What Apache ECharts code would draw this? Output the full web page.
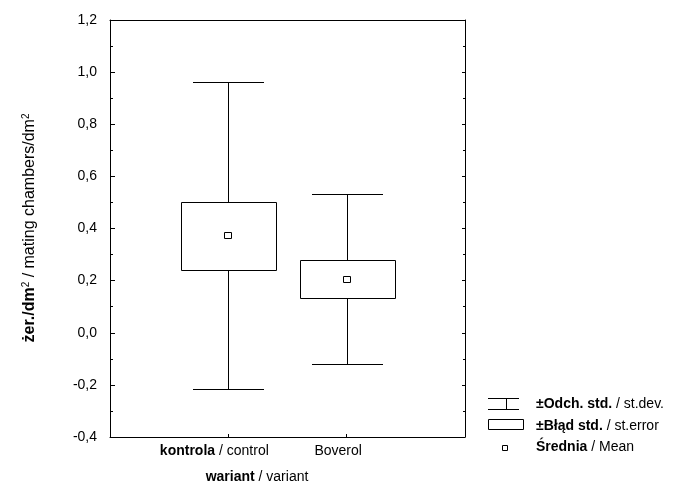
<!DOCTYPE html>
<html>
<head>
<meta charset="utf-8">
<script src="https://cdn.jsdelivr.net/npm/echarts@6/dist/echarts.min.js"></script>
<style>
html,body{margin:0;padding:0;background:#fff;}
#chart{width:681px;height:483px;}
</style>
</head>
<body>
<div id="chart"></div>
<script>
// ---- data ----
const categoryMain = ['kontrola', 'Boverol'];
const categoryTranslation = ['control', null];
const means = [0.374, 0.207];
const seLow = [0.241, 0.135];
const seHigh = [0.503, 0.279];
const sdLow = [-0.217, -0.119];
const sdHigh = [0.961, 0.532];
const yTicks = [-0.4, -0.2, 0.0, 0.2, 0.4, 0.6, 0.8, 1.0, 1.2];

const FONT = "'Liberation Sans', Arial, sans-serif";
const labelPad = [28, 17];

const seriesData = means.map((m, i) => [i + 1, sdLow[i], seLow[i], m, seHigh[i], sdHigh[i]]);

function crisp(v) { return Math.round(v) + 0.5; }

function renderItem(params, api) {
  const x = api.value(0);
  const pSdLow = api.coord([x, api.value(1)]);
  const pSeLow = api.coord([x, api.value(2)]);
  const pMean = api.coord([x, api.value(3)]);
  const pSeHigh = api.coord([x, api.value(4)]);
  const pSdHigh = api.coord([x, api.value(5)]);
  const unit = api.size([1, 0])[0];
  const cx = crisp(pMean[0]);
  const boxHalf = unit * 0.4;
  const capHalf = unit * 0.3;
  const st = { stroke: '#000', lineWidth: 1, fill: null };
  const yTop = crisp(pSdHigh[1]), yBot = crisp(pSdLow[1]);
  const yBoxT = crisp(pSeHigh[1]), yBoxB = crisp(pSeLow[1]);
  const ym = Math.round(pMean[1]);
  return {
    type: 'group',
    children: [
      { type: 'line', shape: { x1: cx, y1: yTop, x2: cx, y2: yBoxT }, style: st },
      { type: 'line', shape: { x1: cx, y1: yBoxB, x2: cx, y2: yBot }, style: st },
      { type: 'line', shape: { x1: Math.round(cx - capHalf), y1: yTop, x2: Math.round(cx + capHalf), y2: yTop }, style: st },
      { type: 'line', shape: { x1: Math.round(cx - capHalf), y1: yBot, x2: Math.round(cx + capHalf), y2: yBot }, style: st },
      { type: 'rect', shape: { x: crisp(cx - boxHalf), y: yBoxT, width: Math.round(boxHalf * 2), height: yBoxB - yBoxT },
        style: { stroke: '#000', lineWidth: 1, fill: '#fff' } },
      { type: 'rect', shape: { x: cx - 4, y: ym - 3 + 0.5, width: 7, height: 6 },
        style: { stroke: '#000', lineWidth: 1, fill: '#fff' } }
    ]
  };
}

const axisLineStyle = { color: '#000', width: 1 };

const option = {
  animation: false,
  backgroundColor: '#fff',
  grid: { left: 110, right: 216, top: 20, bottom: 46 },
  xAxis: [
    {
      type: 'value', min: 0, max: 3, interval: 1, position: 'bottom',
      axisLine: { show: true, onZero: false, lineStyle: axisLineStyle },
      axisTick: { show: true, inside: true, length: 3, lineStyle: axisLineStyle },
      splitLine: { show: false },
      axisLabel: {
        margin: 7, color: '#000', fontFamily: FONT, fontSize: 14,
        formatter: function (v) {
          const i = Math.round(v) - 1;
          if (i < 0 || i >= categoryMain.length) return '';
          if (categoryTranslation[i]) {
            return '{b|' + categoryMain[i] + '}{p' + i + '| / ' + categoryTranslation[i] + '}';
          }
          return '{p' + i + '|' + categoryMain[i] + '}';
        },
        rich: {
          b: { fontWeight: 'bold', fontFamily: FONT, fontSize: 14, color: '#000' },
          p0: { fontFamily: FONT, fontSize: 14, color: '#000', padding: [0, labelPad[0], 0, 0] },
          p1: { fontFamily: FONT, fontSize: 14, color: '#000', padding: [0, labelPad[1], 0, 0] }
        }
      }
    },
    {
      type: 'value', min: 0, max: 3, position: 'top',
      axisLine: { show: true, onZero: false, lineStyle: axisLineStyle },
      axisTick: { show: false }, axisLabel: { show: false }, splitLine: { show: false }
    }
  ],
  yAxis: [
    {
      type: 'value', min: yTicks[0], max: yTicks[yTicks.length - 1], interval: 0.2, position: 'left',
      axisLine: { show: true, onZero: false, lineStyle: axisLineStyle },
      axisTick: { show: true, inside: true, length: 5, lineStyle: axisLineStyle },
      minorTick: { show: true, splitNumber: 2, length: 3, lineStyle: axisLineStyle },
      splitLine: { show: false },
      axisLabel: {
        margin: 13, color: '#000', fontFamily: FONT, fontSize: 14,
        formatter: v => v.toFixed(1).replace('.', ',')
      }
    },
    {
      type: 'value', min: yTicks[0], max: yTicks[yTicks.length - 1], interval: 0.2, position: 'right',
      axisLine: { show: true, onZero: false, lineStyle: axisLineStyle },
      axisTick: { show: true, inside: true, length: 3, lineStyle: axisLineStyle },
      minorTick: { show: true, splitNumber: 2, length: 2, lineStyle: axisLineStyle },
      splitLine: { show: false }, axisLabel: { show: false }
    }
  ],
  series: [{
    type: 'custom',
    xAxisIndex: 0, yAxisIndex: 0,
    renderItem: renderItem,
    encode: { x: 0, y: [1, 2, 3, 4, 5] },
    data: seriesData,
    silent: true
  }],
  graphic: [
    // y-axis title
    {
      type: 'text', x: 30, y: 228, rotation: Math.PI / 2,
      style: {
        text: '{b|żer./dm}{s|2}{r| / mating chambers/dm}{s|2}',
        align: 'center', verticalAlign: 'middle',
        rich: {
          b: { fontWeight: 'bold', fontFamily: FONT, fontSize: 16, fill: '#000', lineHeight: 18 },
          r: { fontFamily: FONT, fontSize: 16, fill: '#000', lineHeight: 18 },
          s: { fontFamily: FONT, fontSize: 10, fill: '#000', lineHeight: 18, verticalAlign: 'top' }
        }
      }
    },
    // x-axis title
    {
      type: 'text', x: 257, y: 477,
      style: {
        text: '{b|wariant}{r| / variant}', align: 'center', verticalAlign: 'middle',
        rich: {
          b: { fontWeight: 'bold', fontFamily: FONT, fontSize: 14, fill: '#000' },
          r: { fontFamily: FONT, fontSize: 14, fill: '#000' }
        }
      }
    },
    // legend icons
    { type: 'line', shape: { x1: 488, y1: 398.5, x2: 519, y2: 398.5 }, style: { stroke: '#000', lineWidth: 1 } },
    { type: 'line', shape: { x1: 488, y1: 409.5, x2: 519, y2: 409.5 }, style: { stroke: '#000', lineWidth: 1 } },
    { type: 'line', shape: { x1: 506.5, y1: 398.5, x2: 506.5, y2: 409.5 }, style: { stroke: '#000', lineWidth: 1 } },
    { type: 'rect', shape: { x: 488.5, y: 419.5, width: 35, height: 10 }, style: { stroke: '#000', lineWidth: 1, fill: '#fff' } },
    { type: 'rect', shape: { x: 502.5, y: 445.5, width: 5, height: 5 }, style: { stroke: '#000', lineWidth: 1, fill: '#fff' } },
    // legend texts
    {
      type: 'text', x: 536, y: 404,
      style: { text: '{b|±Odch. std.}{r| / st.dev.}', verticalAlign: 'middle',
        rich: { b: { fontWeight: 'bold', fontFamily: FONT, fontSize: 14, fill: '#000' }, r: { fontFamily: FONT, fontSize: 14, fill: '#000' } } }
    },
    {
      type: 'text', x: 536, y: 426,
      style: { text: '{b|±Błąd std.}{r| / st.error}', verticalAlign: 'middle',
        rich: { b: { fontWeight: 'bold', fontFamily: FONT, fontSize: 14, fill: '#000' }, r: { fontFamily: FONT, fontSize: 14, fill: '#000' } } }
    },
    {
      type: 'text', x: 536, y: 447,
      style: { text: '{b|Średnia}{r| / Mean}', verticalAlign: 'middle',
        rich: { b: { fontWeight: 'bold', fontFamily: FONT, fontSize: 14, fill: '#000' }, r: { fontFamily: FONT, fontSize: 14, fill: '#000' } } }
    }
  ]
};

const chart = echarts.init(document.getElementById('chart'), null, { renderer: 'canvas' });
chart.setOption(option);
</script>
</body>
</html>
